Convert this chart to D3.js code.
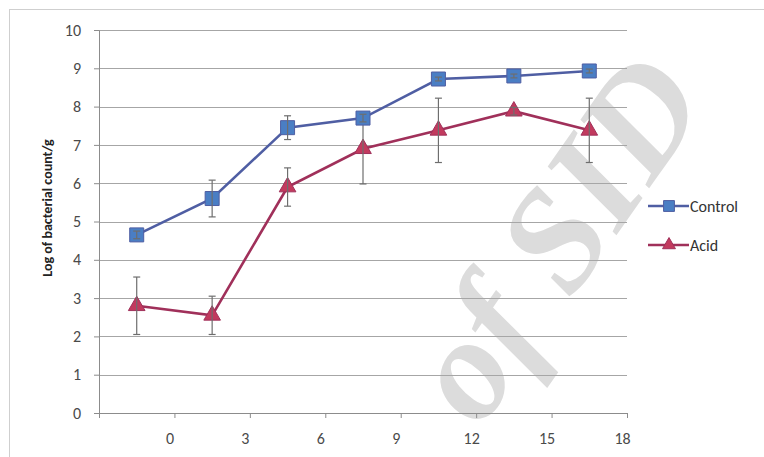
<!DOCTYPE html>
<html><head><meta charset="utf-8">
<script src="https://cdn.jsdelivr.net/npm/d3@7/dist/d3.min.js"></script>
<style>body{margin:0;background:#fff;overflow:hidden}svg{display:block}</style>
</head><body>
<svg id="chart" width="764" height="457"></svg>
<script>
const xValues = [-1.5, 1.5, 4.5, 7.5, 10.5, 13.5, 16.5];
const controlValues = [4.65, 5.6, 7.45, 7.7, 8.72, 8.8, 8.93];
const controlErrors = [0.1, 0.48, 0.31, 0.1, 0.05, 0.05, 0.05];
const acidValues = [2.8, 2.55, 5.9, 6.9, 7.38, 7.88, 7.38];
const acidErrors = [0.75, 0.5, 0.5, 0.92, 0.84, 0.1, 0.84];
const xTicks = [0, 3, 6, 9, 12, 15, 18];
const yTicks = [0, 1, 2, 3, 4, 5, 6, 7, 8, 9, 10];
const seriesNames = ["Control", "Acid"];
const yTitle = "Log of bacterial count/g";
const watermark = "of SID";

const svg = d3.select("#chart");
const x = d3.scaleLinear().domain([-3, 18]).range([99, 627]);
const y = d3.scaleLinear().domain([0, 10]).range([413, 30]);
const font = "Calibri, Carlito, 'Liberation Sans', Arial, sans-serif";

// watermark
svg.append("text")
  .attr("transform", "translate(480,430) rotate(-55)")
  .attr("font-family", "'Liberation Serif', 'DejaVu Serif', serif")
  .attr("font-style", "italic").attr("font-weight", "bold")
  .attr("font-size", 146)
  .attr("fill", "#dcdcdc")
  .text(watermark);

// outer border
svg.append("rect").attr("x", 9.5).attr("y", 9.5).attr("width", 900).attr("height", 600)
  .attr("fill", "none").attr("stroke", "#cfcfcf");

// gridlines
svg.append("g").selectAll("line").data(yTicks.filter(d => d > 0)).join("line")
  .attr("x1", x(-3)).attr("x2", x(18))
  .attr("y1", d => Math.round(y(d)) + 0.5).attr("y2", d => Math.round(y(d)) + 0.5)
  .attr("stroke", "#a6a6a6").attr("stroke-width", 1.2);

// y axis
const yAxis = d3.axisLeft(y).tickValues(yTicks).tickSize(5).tickPadding(13).tickFormat(d3.format("d"));
const gy = svg.append("g").attr("transform", `translate(${x(-3)},0)`).call(yAxis);
gy.select(".domain").attr("stroke", "#8c8c8c");
gy.selectAll(".tick line").attr("stroke", "#8c8c8c");
gy.selectAll(".tick text").attr("font-family", font).attr("font-size", 16).attr("fill", "#4a4a4a");

// x axis
const xAxis = d3.axisBottom(x).tickValues([-3].concat(xTicks)).tickSize(5).tickPadding(15)
  .tickFormat(d => d < 0 ? "" : d3.format("d")(d));
const gx = svg.append("g").attr("transform", `translate(0,${y(0)})`).call(xAxis);
gx.select(".domain").attr("stroke", "#8c8c8c");
gx.selectAll(".tick line").attr("stroke", "#8c8c8c");
gx.selectAll(".tick text").attr("font-family", font).attr("font-size", 16).attr("fill", "#4a4a4a")
  .attr("dx", -5);

// y title
svg.append("text")
  .attr("transform", "translate(52,208) rotate(-90)")
  .attr("text-anchor", "middle")
  .attr("font-family", font).attr("font-weight", "bold").attr("font-size", 14).attr("fill", "#222")
  .text(yTitle);

const series = [
  {name: seriesNames[0], values: controlValues, errors: controlErrors, line: "#4f5ea3", fill: "#4a7ec4", shape: d3.symbolSquare, size: 196},
  {name: seriesNames[1], values: acidValues, errors: acidErrors, line: "#a0305a", fill: "#c23a5e", shape: d3.symbolTriangle, size: 120}
];

const lineGen = d3.line().x(d => x(d[0])).y(d => y(d[1]));

// draw acid first then control on top
[series[1], series[0]].forEach(s => {
  const pts = xValues.map((xv, i) => [xv, s.values[i], s.errors[i]]);
  const g = svg.append("g");
  g.append("path").datum(pts).attr("d", lineGen).attr("fill", "none")
    .attr("stroke", s.line).attr("stroke-width", 2.6);
  g.selectAll("path.pt").data(pts).join("path").attr("class", "pt")
    .attr("transform", d => `translate(${x(d[0])},${y(d[1])})`)
    .attr("d", d3.symbol().type(s.shape).size(s.size))
    .attr("fill", s.fill).attr("stroke", s.line).attr("stroke-width", 1);
  const eb = g.append("g");
  pts.forEach(d => {
    const cx = x(d[0]);
    const y1 = y(d[1] + d[2]), y2 = y(d[1] - d[2]);
    eb.append("line").attr("x1", cx).attr("x2", cx).attr("y1", y1).attr("y2", y2)
      .attr("stroke", "#6e6e6e").attr("stroke-width", 1.2);
    [y1, y2].forEach(yy => eb.append("line").attr("x1", cx - 3.5).attr("x2", cx + 3.5)
      .attr("y1", yy).attr("y2", yy).attr("stroke", "#6e6e6e").attr("stroke-width", 1.2));
  });
});

// legend
const legendY = [206, 245];
series.forEach((s, i) => {
  const g = svg.append("g").attr("transform", `translate(0,${legendY[i]})`);
  g.append("line").attr("x1", 648).attr("x2", 689).attr("y1", 0).attr("y2", 0)
    .attr("stroke", s.line).attr("stroke-width", 2.6);
  g.append("path").attr("transform", "translate(669,0)")
    .attr("d", d3.symbol().type(s.shape).size(s.size * 0.6))
    .attr("fill", s.fill).attr("stroke", s.line);
  g.append("text").attr("x", 690).attr("y", 5.5).attr("font-family", font).attr("font-size", 16)
    .attr("fill", "#333").text(s.name);
});
</script>
</body></html>
